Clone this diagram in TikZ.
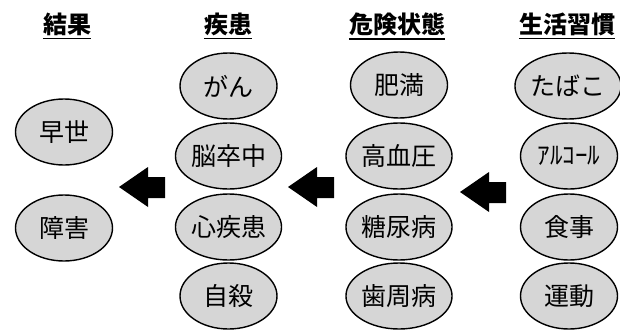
\documentclass[tikz,border=0pt]{standalone}
\usepackage{fontspec}
\newfontfamily\jp{Noto Sans CJK JP}
\usetikzlibrary{shapes.geometric}
\begin{document}
\begin{tikzpicture}[x=1pt,y=-1pt,
  item/.style={ellipse,draw=black,line width=1.4pt,fill=black!16,
    minimum width=97pt,minimum height=66pt,inner sep=0pt,
    font=\jp\fontsize{25}{25}\selectfont},
  title/.style={inner sep=0pt,font=\jp\bfseries\fontsize{24}{24}\selectfont},
  uline/.style={line width=1.6pt},
  blockarrow/.pic={\fill[black] (0,0) -- (29,-20) -- (29,-10) -- (46,-10)
     -- (46,11) -- (29,11) -- (29,20) -- cycle;}]
\useasboundingbox (0,0) rectangle (620,329);
% titles
\node[title] (t1) at (67,24) {結果};
\node[title] (t2) at (228,24) {疾患};
\node[title] (t3) at (397,24) {危険状態};
\node[title] (t4) at (567,24) {生活習慣};
\foreach \t in {t1,t2,t3,t4}
  \draw[uline] ([yshift=-3pt]\t.south west) -- ([yshift=-3pt]\t.south east);
% column 1
\node[item] (s1) at (64,132) {早世};
\node[item] (s2) at (64,228) {障害};
% column 2
\node[item] (d1) at (228.5,86) {がん};
\node[item] (d2) at (228.5,156) {脳卒中};
\node[item] (d3) at (228.5,227) {心疾患};
\node[item] (d4) at (228.5,296) {自殺};
% column 3
\node[item] (r1) at (399,85) {肥満};
\node[item] (r2) at (399,156) {高血圧};
\node[item] (r3) at (399,227) {糖尿病};
\node[item] (r4) at (399,296) {歯周病};
% column 4
\node[item] (h1) at (568,86) {たばこ};
\node[item] (h2) at (569,156) {ｱﾙｺｰﾙ};
\node[item] (h3) at (569,227) {食事};
\node[item] (h4) at (569,296) {運動};
% arrows
\coordinate (a1) at (119,187);
\coordinate (a2) at (288,187);
\coordinate (a3) at (460,192);
\pic at (a1) {blockarrow};
\pic at (a2) {blockarrow};
\pic at (a3) {blockarrow};
\end{tikzpicture}
\end{document}
